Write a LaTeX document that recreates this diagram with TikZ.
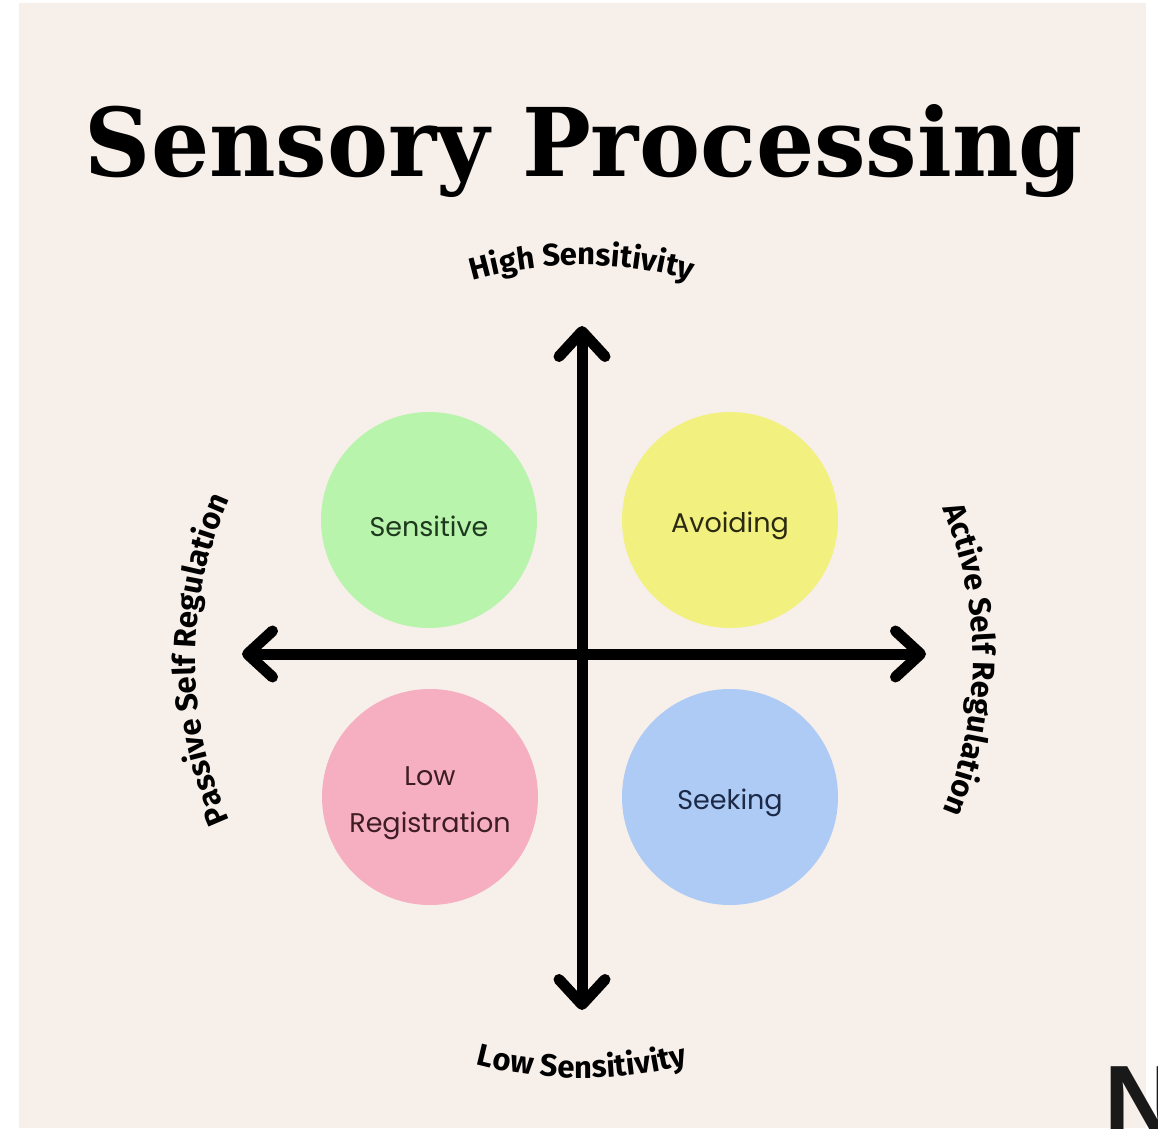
\documentclass[tikz,border=0pt]{standalone}
\usepackage{fontspec}
\usepackage{graphicx}
\usetikzlibrary{arrows.meta,decorations.text,calc}
\setmainfont{DejaVu Serif}
\newfontfamily\titlefam{DejaVu Serif}
\newfontfamily\axisfam{Fira Sans}
\newfontfamily\labelfam{Poppins}
\newfontfamily\nfam{Liberation Sans}
\newcommand\axisfont{\axisfam\bfseries\fontsize{31}{31}\selectfont}
\definecolor{bg}{HTML}{F7EFEA}
\definecolor{cgreen}{HTML}{B9F4AC}
\definecolor{cyellow}{HTML}{F2F07E}
\definecolor{cpink}{HTML}{F5AFC1}
\definecolor{cblue}{HTML}{ADCBF5}
\definecolor{tgreen}{HTML}{1E3A1E}
\definecolor{tyellow}{HTML}{2A2A12}
\definecolor{tpink}{HTML}{3D1C24}
\definecolor{tblue}{HTML}{1C2A48}
\begin{document}
\begin{tikzpicture}[x=1pt,y=1pt,
  axisline/.style={line width=11pt, line cap=round,
    {Straight Barb[length=25pt,width=46pt,round]}-{Straight Barb[length=25pt,width=46pt,round]}},
  blob/.style={circle, minimum size=216pt, inner sep=0pt, draw=none},
  blobtext/.style={font=\labelfam\fontsize{27}{47}\selectfont, align=center, yshift=-6pt, inner sep=0pt},
  arclabel/.style={decorate, decoration={text along path, text align=center,
    text={|\axisfont|#1}}}
]
% background and margins
\fill[white] (0,0) rectangle (1158,1128);
\fill[bg] (19,0) rectangle (1146,1125);
\useasboundingbox (0,0) rectangle (1158,1128);

% title
\node[anchor=base, inner sep=0pt] (title) at (584,951)
  {\resizebox{998pt}{72pt}{\titlefam\bfseries Sensory Processing}};

% quadrant circles
\node[blob, fill=cgreen, label={[blobtext, text=tgreen]center:Sensitive}] (sens) at (429,608) {};
\node[blob, fill=cyellow, label={[blobtext, text=tyellow]center:Avoiding}] (avoid) at (730,608) {};
\node[blob, fill=cpink, label={[blobtext, text=tpink]center:Low\\Registration}] (lowreg) at (430,331) {};
\node[blob, fill=cblue, label={[blobtext, text=tblue]center:Seeking}] (seek) at (730,331) {};

% axes
\coordinate (C) at (582,468);
\coordinate (top) at (582,802);
\coordinate (bot) at (582,118);
\coordinate (left) at (242,474);
\coordinate (right) at (926,474);
\draw[axisline] (left) -- (right);
\draw[axisline] (bot) -- (top);

% curved axis labels
\path[arclabel={High Sensitivity}] ($(C)+(145:395)$) arc[start angle=145, end angle=35, radius=395];
\path[arclabel={Low Sensitivity}] ($(C)+(235:418)$) arc[start angle=235, end angle=305, radius=418];
\path[arclabel={Passive Self Regulation}] ($(C)+(215:387)$) arc[start angle=215, end angle=145, radius=387];
\path[arclabel={Active Self Regulation}] ($(C)+(35:391)$) arc[start angle=35, end angle=-35, radius=391];

% partial letter at the bottom right edge
\begin{scope}
\clip (0,0) rectangle (1158,1128);
\node[anchor=base west, inner sep=0pt, font=\nfam\bfseries\fontsize{100}{100}\selectfont, text=black!90] (nletter) at (1104,-7) {N};
\end{scope}
\end{tikzpicture}
\end{document}
